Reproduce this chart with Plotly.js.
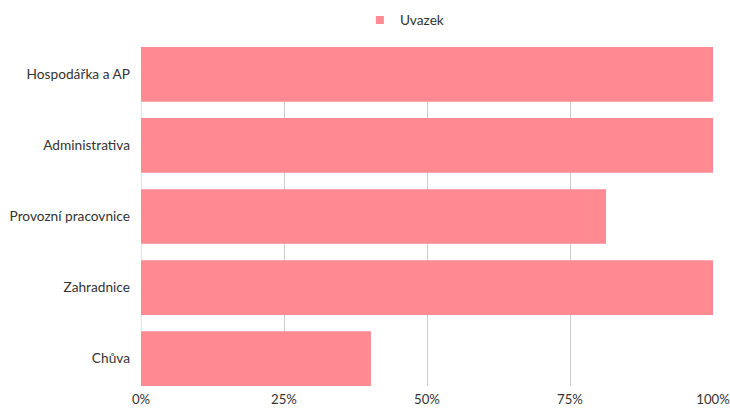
<!DOCTYPE html>
<html>
<head>
<meta charset="utf-8">
<script src="https://cdn.plot.ly/plotly-3.0.1.min.js"></script>
<style>html,body{margin:0;padding:0;background:#fff;}#chart{width:730px;height:408px;}</style>
</head>
<body>
<div id="chart"></div>
<script>
const categories = ["Hospodářka a AP", "Administrativa", "Provozní pracovnice", "Zahradnice", "Chůva"];
const uvazek = [100, 100, 81.3, 100, 40.2];
const xTicks = [0, 25, 50, 75, 100];
const xTickLabels = ["0%", "25%", "50%", "75%", "100%"];
const seriesName = "Uvazek";
const barColor = "#ff8a92";

const trace = {
  type: "bar",
  orientation: "h",
  name: seriesName,
  y: categories,
  x: uvazek,
  width: 0.77,
  marker: {color: barColor},
  showlegend: false,
  hoverinfo: "x+y"
};

const legendTrace = {
  type: "scatter",
  mode: "markers",
  name: seriesName,
  x: [null],
  y: [null],
  marker: {symbol: "square", size: 8, color: barColor},
  showlegend: true
};

const layout = {
  width: 730,
  height: 408,
  margin: {l: 141, r: 17, t: 47, b: 22, pad: 0, autoexpand: false},
  paper_bgcolor: "#fff",
  plot_bgcolor: "#fff",
  font: {family: "Lato, 'Open Sans', sans-serif", size: 13.7, color: "#333"},
  showlegend: true,
  legend: {orientation: "h", xref: "container", yref: "container", x: 0.493, xanchor: "left", y: 0.951, yanchor: "middle", font: {size: 13.7, color: "#333"}, itemwidth: 30},
  xaxis: {
    range: [0, 100],
    tickvals: xTicks,
    ticktext: xTickLabels,
    tickfont: {size: 13.2},
    ticklabeloverflow: "allow",
    showgrid: true,
    gridcolor: "#cccccc",
    gridwidth: 1,
    zeroline: false,
    showline: false,
    ticks: "",
    ticklabelstandoff: 4,
    automargin: false,
    fixedrange: true
  },
  yaxis: {
    type: "category",
    range: [4.385, -0.385],
    showgrid: false,
    zeroline: false,
    showline: false,
    ticks: "",
    ticklabelstandoff: 10,
    automargin: false,
    fixedrange: true
  },
  shapes: [{type: "line", xref: "x", yref: "paper", x0: 0, x1: 0, y0: 0, y1: 1, line: {color: "#cccccc", width: 1}, layer: "below"}]
};

Plotly.newPlot("chart", [trace, legendTrace], layout, {displayModeBar: false, staticPlot: true});
</script>
</body>
</html>
